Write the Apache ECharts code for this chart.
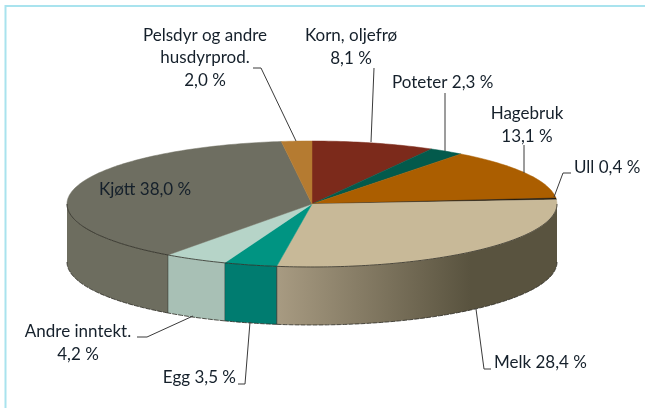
<!DOCTYPE html>
<html><head><meta charset="utf-8">
<style>html,body{margin:0;padding:0;background:#fff}#c{width:645px;height:408px}</style>
<script src="https://cdn.jsdelivr.net/npm/echarts@6/dist/echarts.min.js"></script>
</head><body><div id="c"></div>
<script>
// Data (clockwise from 12 o'clock)
const categories = ['Korn, oljefrø','Poteter','Hagebruk','Ull','Melk','Egg','Andre inntekt.','Kjøtt','Pelsdyr og andre husdyrprod.'];
const values = [8.1, 2.3, 13.1, 0.4, 28.4, 3.5, 4.2, 38.0, 2.0];
const topColors = ['#7c2a1b','#035a4c','#ab5e00','#1c1408','#c8b998','#009482','#b6d4c8','#6e6e61','#b57b31'];
const sideFrom = ['#7c2a1b','#035a4c','#ab5e00','#1c1408','#a89b82','#007c70','#b8d1c6','#6b6b5d','#b57b31'];
const sideTo   = ['#7c2a1b','#035a4c','#ab5e00','#1c1408','#59533f','#007c70','#a8c0b5','#6d6d5f','#b57b31'];
const labelLines = [['Korn, oljefrø'],['Poteter'],['Hagebruk'],['Ull'],['Melk'],['Egg'],['Andre inntekt.'],['Kjøtt'],['Pelsdyr og andre','husdyrprod.']];

// Layout of annotations (kept apart from the data)
const labelPos = [
 {x:351,y:36,align:'center',lh:23,split:true},
 {x:392,y:83,align:'left'},
 {x:527,y:114,align:'center',lh:23,split:true},
 {x:574,y:168,align:'left'},
 {x:494,y:363,align:'left'},
 {x:236,y:378,align:'right'},
 {x:78,y:332,align:'center',lh:23,split:true},
 {x:99,y:190,align:'left'},
 {x:205,y:36,align:'center',lh:23,split:true}
];
const leaders = [
 [[374,68],[371,142]],
 [[445,93],[445,151]],
 [[524,145],[524,173]],
 [[571,173],[563,173],[554,197]],
 [[491,369],[484,369],[476,309]],
 [[238,384],[245,384],[250,322]],
 [[137,337],[147,337],[193,316]],
 null,
 [[253,68],[261,68],[296,141]]
];
const DEPTH = 58/63;   // thickness in y-axis units

const total = values.reduce((a,b)=>a+b,0);
const starts = values.map((_,i)=>values.slice(0,i).reduce((a,b)=>a+b,0));
const fmt = v => v.toFixed(1).replace('.',',') + ' %';

function arc(api,a0,a1,drop){
  const pts=[]; const n=Math.max(2,Math.ceil(Math.abs(a1-a0)));
  for(let k=0;k<=n;k++){
    const t=(a0+(a1-a0)*k/n)*Math.PI/180;
    pts.push(api.coord([Math.sin(t),Math.cos(t)-drop]));
  }
  return pts;
}
function renderSlice(params,api){
  const i=params.dataIndex, a0=starts[i]/total*360, a1=(starts[i]+api.value(0))/total*360;
  const children=[];
  const c=api.coord([0,0]);
  children.push({type:'polygon',z2:5,shape:{points:[c].concat(arc(api,a0,a1,0))},
    style:{fill:topColors[i],stroke:topColors[i],lineWidth:0.5}});
  const s0=Math.max(a0,90), s1=Math.min(a1,270);
  if(s1>s0){
    const t=arc(api,s0,s1,0), b=arc(api,s0,s1,DEPTH);
    const xs=t.map(p=>p[0]);
    let x1=Math.min(...xs), x2=Math.max(...xs);
    // Milk's shade runs light (left) to dark (right)
    const fill=new echarts.graphic.LinearGradient(x2,0,x1,0,[
      {offset:0,color:sideTo[i]},
      {offset:i===4?0.31:1,color:sideTo[i]},
      {offset:1,color:sideFrom[i]}],true);
    children.push({type:'polygon',z2:3,shape:{points:t.concat(b.slice().reverse())},style:{fill}});
    children.push({type:'polyline',z2:6,shape:{points:t},style:{fill:null,stroke:'#2b2a22',lineWidth:0.8}});
    children.push({type:'polyline',z2:6,shape:{points:b},style:{fill:null,stroke:'#2b2a22',lineWidth:0.8,lineDash:[5,1]}});
    if(s0===a0||s1===a1){
      const edge=s0===a0?0:t.length-1;
      children.push({type:'polyline',z2:4,shape:{points:[t[edge],b[edge]]},style:{fill:null,stroke:'rgba(30,40,35,.55)',lineWidth:0.8}});
    }
  }
  return {type:'group',children};
}
function renderLabel(params,api){
  const i=params.dataIndex, p=labelPos[i], children=[];
  const font='17px Lato, "Open Sans", sans-serif';
  const lines=p.split?labelLines[i].concat([fmt(api.value(0))]):[labelLines[i].join(' ')+' '+fmt(api.value(0))];
  const lh=p.lh||23;
  const tops={8:[36,58,81]};
  lines.forEach((t,k)=>children.push({type:'text',z2:20,style:{
    text:t,x:p.x,y:tops[i]?tops[i][k]:p.y+k*lh,align:p.align,verticalAlign:'middle',font,fill:'#15202b'}}));
  if(leaders[i]) children.push({type:'polyline',z2:15,shape:{points:leaders[i]},
    style:{fill:null,stroke:'#3a3a3a',lineWidth:1}});
  return {type:'group',children};
}
const chart=echarts.init(document.getElementById('c'),null,{renderer:'canvas'});
chart.setOption({
  animation:false,
  backgroundColor:'#ffffff',
  grid:{left:67,width:490,top:141,height:126},
  xAxis:{type:'value',min:-1,max:1,show:false},
  yAxis:{type:'value',min:-1,max:1,show:false},
  graphic:[
    {type:'line',shape:{x1:5.5,y1:6,x2:645,y2:6},style:{stroke:'#a9e3ee',lineWidth:2}},
    {type:'line',shape:{x1:5.5,y1:5,x2:5.5,y2:408},style:{stroke:'#a9e3ee',lineWidth:2}}
  ],
  series:[
    {type:'custom',coordinateSystem:'cartesian2d',encode:{x:0,y:0},clip:false,silent:true,
     data:values.map(v=>[v]),renderItem:renderSlice},
    {type:'custom',coordinateSystem:'none',silent:true,z:5,
     data:values.map(v=>[v]),renderItem:renderLabel}
  ]
});
</script></body></html>
